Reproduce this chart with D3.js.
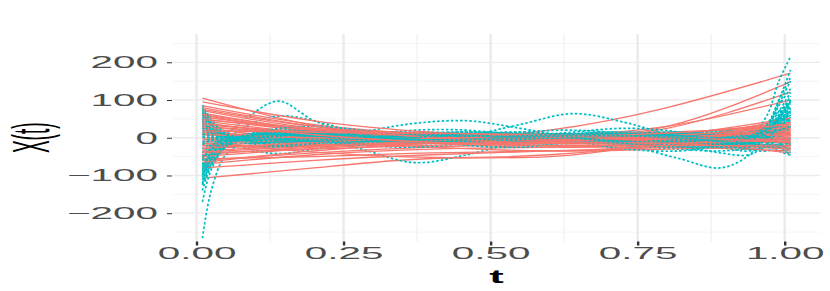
<!DOCTYPE html>
<html>
<head>
<meta charset="utf-8">
<script src="https://cdn.jsdelivr.net/npm/d3@7"></script>
<style>
  body { margin: 0; background: #fff; }
  text { font-family: "Liberation Sans", Arial, sans-serif; }
</style>
</head>
<body>
<svg id="chart"></svg>
<script>
// sample points of the curves (t values)
const tRed = [0.01, 0.2, 0.4, 0.6, 0.8, 1.01];
const tCyan = [0.01, 0.025, 0.05, 0.09, 0.14, 0.2, 0.28, 0.37, 0.46, 0.55, 0.64, 0.73, 0.82, 0.89, 0.94, 0.97, 0.99, 1.01];

// solid red curves, values read at tRed
const redCurves = [
  [105, 32, -8, -22, -15, 5],
  [-107, -80, -55, -50, -10, 50],
  [-20, -22, -8, 20, 80, 171],
  [60, 15, -5, -2, 30, 148],
  [40, 5, -10, -5, 25, 121],
  [-30, -15, -5, 5, 30, 100],
  [85, 35, 10, 0, 5, 20],
  [72, 25, 5, -5, -5, 10],
  [65, 20, 0, -8, -10, -25],
  [50, 18, 5, 5, 10, 40],
  [-60, -40, -25, -15, 5, 52],
  [-70, -45, -30, -25, -20, -10],
  [-45, -25, -12, -5, 0, 15],
  [30, 10, 0, -5, -10, -20],
  [-20, -10, 0, 5, 8, 10],
  [20, 12, 5, 0, -8, -30],
  [-10, 0, 5, 5, 0, -15],
  [10, 5, 0, 0, 5, 20],
  [45, 10, -15, -25, -25, -35],
  [-55, -50, -40, -35, -25, 0],
  [25, -5, -25, -35, -30, -20],
  [-35, -20, -15, -15, -5, 25],
  [55, 20, -5, -15, -5, 41],
  [0, -5, -5, 0, 5, 5],
  [-5, 5, 10, 10, 5, -5],
  [35, 15, 10, 10, 15, 30],
  [-25, -18, -10, -8, -10, -28],
  [75, 30, 10, 5, 12, 35],
  [-80, -60, -45, -35, -20, 15],
  [15, 0, -8, -10, -5, 0],
  [95, 45, 15, 0, -5, -10],
  [-15, -5, 0, -2, -10, -40],
  [-15, -38, -52, -45, -15, 40],
  [28, 8, -3, -5, 0, 18],
  [-40, -30, -20, -10, 0, 8],
  [62, 22, 2, -6, -2, 25],
  [-65, -35, -15, -5, 5, 28],
  [8, 0, -5, -5, 0, 12],
  [-50, -28, -15, -12, -15, -30],
  [48, 25, 12, 5, 0, -5],
  [-28, -12, -2, 2, 0, -12],
  [80, 30, 0, -15, -15, -5],
  [18, 15, 12, 8, 2, -12],
  [-38, -22, -8, 2, 12, 35],
  [38, 8, -12, -20, -20, -22]
];

// dotted cyan curves, values read at tCyan
const cyanCurves = [
  [-60, -35, 5, 58, 97, 45, 5, -15, -10, 5, 10, 0, -15, -10, 10, 40, 70, 95],
  [40, 20, 5, 35, 58, 45, 12, -5, -5, 5, 8, -2, -10, -5, 10, 30, 50, 70],
  [70, 35, 0, -30, -42, -30, -5, 10, 10, 0, -5, 0, 10, 15, 5, -10, -25, -40],
  [-20, -10, 0, 10, 15, 0, -30, -66, -45, -10, 10, 15, 5, -10, -5, 20, 55, 80],
  [30, 15, 5, -10, -15, -5, 15, 38, 45, 25, 0, -15, -15, 0, 15, 20, 25, 30],
  [-50, -25, -5, 5, 5, -5, -15, -10, 5, 35, 64, 40, 0, -20, -10, 15, 40, 60],
  [10, 5, 0, 5, 10, 5, 0, -5, 0, 5, 0, -20, -55, -80, -45, 20, 85, 130],
  [-266, -140, -45, -5, 10, 10, 5, 0, 0, 0, 0, 0, -5, -5, 0, 15, 35, 50],
  [-170, -85, -25, 5, 15, 10, 0, -5, 0, 5, 0, -5, -10, -5, 5, 20, 35, 45],
  [-40, -20, 0, 10, 10, 5, 0, -5, -5, 0, 5, 5, 0, -5, 5, 60, 150, 215],
  [-112, -60, -20, 0, 10, 10, 5, 0, 0, 0, 0, 0, 0, -5, 0, 30, 100, 180],
  [86, 50, 15, 0, -5, -5, 0, 5, 5, 0, -5, -5, 0, 5, 0, -15, -35, -46],
  [-95, -55, -20, 0, 5, 0, -5, -5, 0, 5, 5, 0, -5, -10, -10, 10, 60, 110],
  [60, 35, 10, -5, -10, -5, 0, 5, 5, 0, -5, -5, 5, 15, 20, 15, 0, -20],
  [-80, -40, -10, 5, 10, 5, -5, -10, -5, 5, 10, 5, -10, -25, -35, -20, 15, 50],
  [45, 20, 0, -10, -10, 0, 10, 10, 0, -10, -10, 0, 10, 15, 10, 20, 45, 75],
  [-60, -25, 0, 10, 5, -5, -10, -5, 5, 10, 5, -5, -15, -20, -10, 15, 60, 100],
  [20, 10, 0, -5, -5, 0, 5, 5, 0, -5, -5, 0, 5, 5, 0, -5, -10, -15],
  [-30, -15, -5, 0, 5, 5, 0, -5, -10, -5, 5, 10, 10, 0, -10, -5, 10, 25],
  [75, 40, 10, -10, -15, -10, 0, 10, 15, 10, -5, -20, -30, -35, -25, 5, 50, 90],
  [-100, -55, -15, 10, 20, 15, 0, -10, -10, 0, 10, 15, 5, -15, -30, -25, 0, 30],
  [5, 0, -5, -5, 0, 5, 10, 5, -5, -15, -15, -5, 10, 20, 15, 30, 70, 120],
  [-50, -30, -10, 10, 20, 15, 0, -10, -5, 5, 10, 0, -20, -40, -45, -15, 20, 40],
  [35, 15, -5, -15, -10, 0, 10, 15, 10, 0, -10, -30, -35, -20, 0, 10, 5, -10],
  [-120, -70, -25, 0, 10, 15, 10, 0, -10, -10, 0, 10, 10, 0, -10, 0, 30, 65],
  [55, 30, 5, -15, -25, -15, 5, 20, 20, 5, -10, -15, -5, 5, 0, -10, -20, -30],
  [-10, -5, 0, 5, 5, 0, -5, -5, 5, 15, 20, 10, -10, -25, -20, 5, 40, 70],
  [-140, -75, -25, 0, 5, 0, -5, 0, 5, 5, 0, -5, -5, 5, 15, 25, 45, 60],
  [15, 10, 5, 10, 25, 30, 20, 0, -20, -25, -10, 5, 10, 0, -15, -5, 15, 30],
  [-75, -45, -15, 0, 0, -10, -20, -25, -15, 0, 15, 25, 15, -10, -30, -35, -20, 0],
  [-105, -60, -18, 5, 12, 8, 0, -8, -8, 0, 8, 8, 0, -10, -15, 0, 40, 85],
  [65, 35, 8, -8, -12, -8, 0, 8, 8, 0, -8, -8, 5, 12, 10, 5, -15, -35],
  [-85, -45, -12, 5, 10, 0, -10, -10, 0, 10, 10, 0, -12, -18, -12, 10, 55, 95],
  [25, 12, 0, -8, -5, 5, 10, 5, -5, -10, -5, 5, 10, 5, -5, 0, 25, 55],
  [-40, -20, -5, 5, 10, 10, 5, -5, -10, -10, 0, 10, 15, 5, -10, -20, -20, -10],
  [50, 25, 5, -5, -8, -5, 0, 5, 5, 5, 0, -10, -20, -25, -15, 10, 45, 75],
  [-90, -50, -15, 5, 12, 10, 5, 0, -5, -5, 0, 5, 0, -10, -5, 30, 90, 150],
  [-15, -8, 0, 5, 0, -10, -15, -5, 10, 15, 5, -10, -20, -15, 0, 10, 20, 30],
  [80, 45, 12, -10, -20, -15, -5, 10, 15, 10, 0, -10, -10, 0, 5, -5, -25, -45],
  [-70, -40, -10, 5, 8, 5, 0, -5, -5, 0, 5, 5, -5, -20, -25, -5, 35, 70],
  [10, 5, 0, 0, 5, 10, 5, -5, -10, -5, 5, 10, 5, -5, -5, 15, 50, 85],
  [-125, -70, -22, 5, 15, 10, 0, -5, -5, 0, 5, 5, 0, -5, 0, 20, 55, 95],
  [40, 22, 8, 0, -5, -10, -10, 0, 10, 10, 0, -15, -25, -20, 0, 25, 60, 100],
  [-55, -30, -8, 8, 12, 5, -5, -10, -5, 5, 10, 10, 5, 0, 5, 35, 100, 160],
  [0, 0, 0, 0, 5, 5, 0, -5, -5, 0, 5, 5, 0, -10, -20, -25, -20, -15]
];

const xTicks = [0, 0.25, 0.5, 0.75, 1];
const xMinor = [0.125, 0.375, 0.625, 0.875];
const yTicks = [-200, -100, 0, 100, 200];
const yMinor = [-250, -150, -50, 50, 150, 250];

const width = 830, height = 291;
const panel = { left: 173, right: 820, top: 34, bottom: 241.5 };
const stretch = 2.45; // the picture is stretched sideways

const svg = d3.select('#chart')
    .attr('width', width)
    .attr('height', height);

const x = d3.scaleLinear().domain([-0.04, 1.06]).range([panel.left, panel.right]);
const y = d3.scaleLinear().domain([-275, 275]).range([panel.bottom, panel.top]);

// grid
const grid = svg.append('g');
grid.selectAll('.ymin').data(yMinor).enter().append('line')
    .attr('x1', panel.left).attr('x2', panel.right)
    .attr('y1', d => y(d)).attr('y2', d => y(d))
    .attr('stroke', '#f1f1f1').attr('stroke-width', 0.8);
grid.selectAll('.xmin').data(xMinor).enter().append('line')
    .attr('x1', d => x(d)).attr('x2', d => x(d))
    .attr('y1', panel.top).attr('y2', panel.bottom)
    .attr('stroke', '#f1f1f1').attr('stroke-width', 1.3);
grid.selectAll('.ymaj').data(yTicks).enter().append('line')
    .attr('x1', panel.left).attr('x2', panel.right)
    .attr('y1', d => y(d)).attr('y2', d => y(d))
    .attr('stroke', '#ebebeb').attr('stroke-width', 1.3);
grid.selectAll('.xmaj').data(xTicks).enter().append('line')
    .attr('x1', d => x(d)).attr('x2', d => x(d))
    .attr('y1', panel.top).attr('y2', panel.bottom)
    .attr('stroke', '#ebebeb').attr('stroke-width', 2.4);

// curves
svg.append('clipPath').attr('id', 'clip')
  .append('rect')
    .attr('x', panel.left).attr('y', panel.top)
    .attr('width', panel.right - panel.left)
    .attr('height', panel.bottom - panel.top);

const redLine = d3.line()
    .x((d, i) => x(tRed[i]))
    .y(d => y(d))
    .curve(d3.curveNatural);
const cyanLine = d3.line()
    .x((d, i) => x(tCyan[i]))
    .y(d => y(d))
    .curve(d3.curveCatmullRom);

const curves = svg.append('g').attr('clip-path', 'url(#clip)');
const n = Math.max(redCurves.length, cyanCurves.length);
for (let i = 0; i < n; i++) {
    if (cyanCurves[i]) {
        curves.append('path')
            .attr('d', cyanLine(cyanCurves[i]))
            .attr('fill', 'none')
            .attr('stroke', '#00BFC4')
            .attr('stroke-width', 1.7)
            .attr('stroke-dasharray', '2.6,2');
    }
    if (redCurves[i]) {
        curves.append('path')
            .attr('d', redLine(redCurves[i]))
            .attr('fill', 'none')
            .attr('stroke', '#F8766D')
            .attr('stroke-width', 1.3);
    }
}

// axes
const yAxis = svg.append('g')
    .attr('transform', `translate(${panel.left - 1},0)`)
    .call(d3.axisLeft(y).tickValues(yTicks).tickSize(5).tickPadding(0));
yAxis.select('.domain').remove();
yAxis.selectAll('line').attr('stroke', '#333').attr('stroke-width', 1);
yAxis.selectAll('text')
    .attr('x', 0)
    .attr('transform', `translate(-14,0) scale(${stretch},1)`)
    .attr('fill', '#4d4d4d')
    .style('font-size', '16.5px');

const xAxis = svg.append('g')
    .attr('transform', `translate(0,${panel.bottom})`)
    .call(d3.axisBottom(x).tickValues(xTicks).tickFormat(d3.format('.2f')).tickSize(4).tickPadding(0));
xAxis.select('.domain').remove();
xAxis.selectAll('line').attr('stroke', '#333').attr('stroke-width', 2.4);
xAxis.selectAll('text')
    .attr('y', 0)
    .attr('transform', `translate(0,6) scale(${stretch},1)`)
    .attr('fill', '#4d4d4d')
    .style('font-size', '16.5px');

// axis titles
svg.append('text')
    .attr('transform', `translate(${(panel.left + panel.right) / 2},283) scale(2.3,1)`)
    .attr('text-anchor', 'middle')
    .style('font-size', '19px')
    .style('font-weight', 'bold')
    .text('t');

svg.append('text')
    .attr('transform', `translate(49,${(panel.top + panel.bottom) / 2}) scale(2.7,1) rotate(-90)`)
    .attr('text-anchor', 'middle')
    .style('font-size', '19px')
    .text('X(t)');
</script>
</body>
</html>
